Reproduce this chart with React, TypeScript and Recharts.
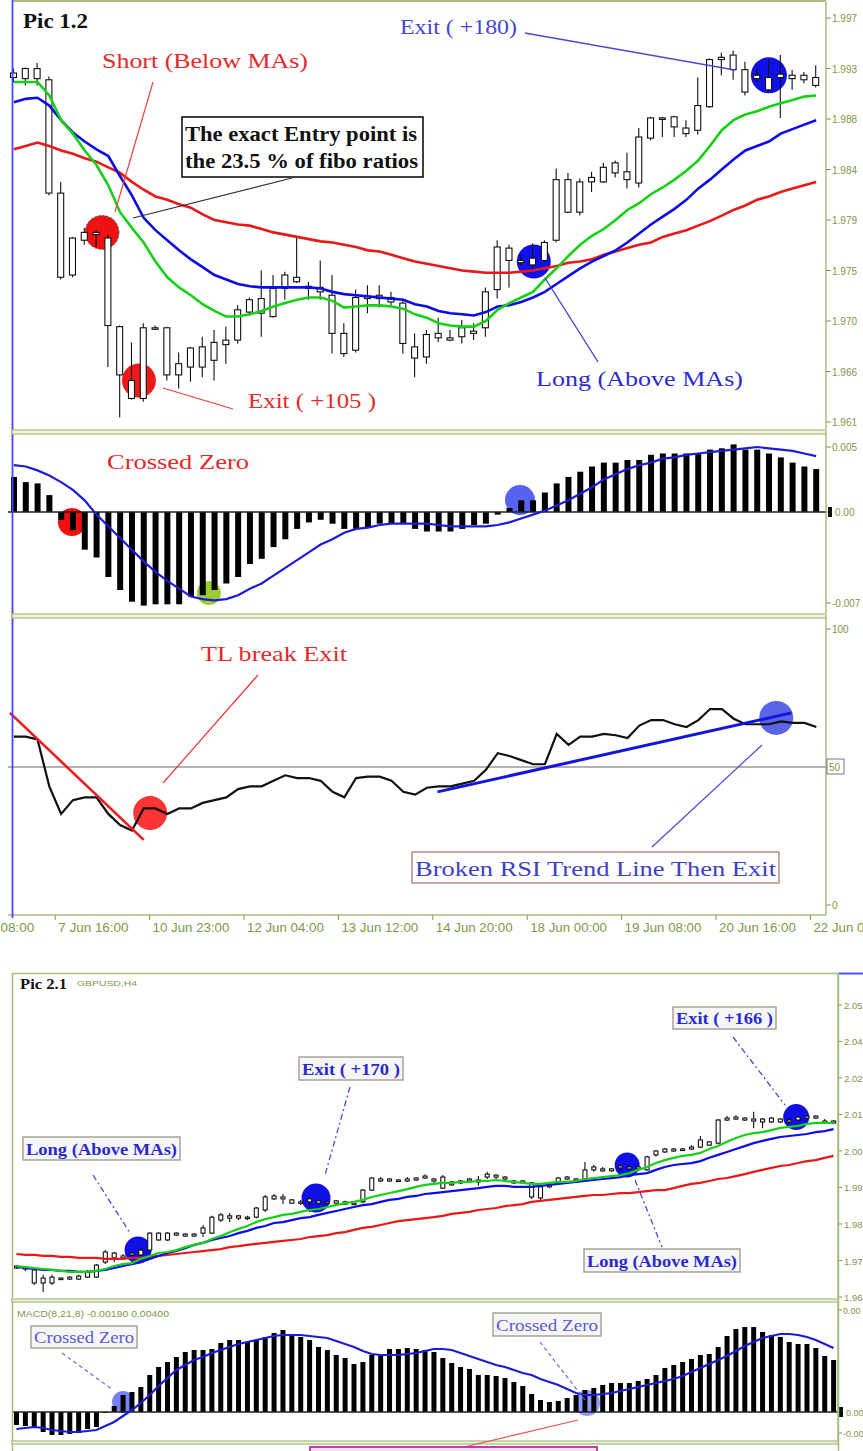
import React from 'react';
import { ComposedChart, Bar, Line, XAxis, YAxis, ReferenceDot, ReferenceLine } from 'recharts';

// ── Pic 1.2 (H4, 69 bars) ──────────────────────────────────────
// candles as [open, high, low, close]
const candles1: [number, number, number, number][] = [
  [1.9926, 1.993, 1.9918, 1.9922], [1.9921, 1.9931, 1.9915, 1.993], [1.993, 1.9935, 1.9915, 1.9921],
  [1.992, 1.9923, 1.9817, 1.9819], [1.9819, 1.9829, 1.9742, 1.9744], [1.9746, 1.978, 1.9744, 1.9779],
  [1.9777, 1.9788, 1.9773, 1.9784], [1.9784, 1.9786, 1.9771, 1.9782], [1.9779, 1.9782, 1.9664, 1.9701],
  [1.97, 1.9701, 1.9619, 1.9657], [1.9652, 1.9686, 1.9635, 1.9636], [1.9636, 1.9703, 1.9633, 1.9699],
  [1.9699, 1.9701, 1.9697, 1.9698], [1.9699, 1.97, 1.9652, 1.9657], [1.9657, 1.9677, 1.9645, 1.9667],
  [1.9664, 1.9682, 1.9651, 1.9681], [1.9664, 1.9691, 1.9655, 1.9682], [1.967, 1.9697, 1.9652, 1.9686],
  [1.9684, 1.97, 1.9667, 1.9688], [1.9688, 1.9719, 1.9685, 1.9715], [1.9713, 1.9726, 1.971, 1.9724],
  [1.9712, 1.975, 1.9691, 1.9725], [1.9709, 1.9746, 1.9708, 1.9734], [1.9734, 1.9749, 1.9724, 1.9746],
  [1.9744, 1.978, 1.9739, 1.974], [1.9736, 1.974, 1.9724, 1.9734], [1.9735, 1.9759, 1.9724, 1.9731],
  [1.9728, 1.9746, 1.9676, 1.9694], [1.9694, 1.9703, 1.9673, 1.9676], [1.9679, 1.9733, 1.9677, 1.9726],
  [1.9727, 1.9737, 1.9712, 1.9725], [1.9725, 1.9737, 1.9717, 1.9728], [1.9726, 1.9731, 1.9719, 1.9722],
  [1.9721, 1.9724, 1.9676, 1.9685], [1.9682, 1.9694, 1.9655, 1.9672], [1.9673, 1.9697, 1.9667, 1.9693],
  [1.9694, 1.9708, 1.9686, 1.969], [1.969, 1.9697, 1.9687, 1.9688], [1.9691, 1.9706, 1.9685, 1.9699],
  [1.9694, 1.9703, 1.9688, 1.9696], [1.9699, 1.9735, 1.9691, 1.9731], [1.9733, 1.9777, 1.9725, 1.9771],
  [1.977, 1.9773, 1.9735, 1.9759], [1.9757, 1.9764, 1.9754, 1.9759], [1.9755, 1.9774, 1.9753, 1.9761],
  [1.9759, 1.9777, 1.9758, 1.9775], [1.9777, 1.9841, 1.9775, 1.9831], [1.9831, 1.9837, 1.9801, 1.9802],
  [1.9802, 1.9832, 1.9799, 1.9829], [1.9829, 1.9838, 1.982, 1.9833], [1.9829, 1.9846, 1.9828, 1.9842],
  [1.9837, 1.9848, 1.9833, 1.9846], [1.9838, 1.9855, 1.9823, 1.9831], [1.9828, 1.9877, 1.9824, 1.9869],
  [1.9868, 1.9887, 1.9866, 1.9886], [1.9886, 1.9887, 1.9869, 1.9885], [1.9887, 1.9888, 1.9869, 1.9878],
  [1.9877, 1.9884, 1.9869, 1.9872], [1.9875, 1.9922, 1.9871, 1.9897], [1.9896, 1.9939, 1.9895, 1.9938],
  [1.9938, 1.9944, 1.9924, 1.994], [1.9929, 1.9946, 1.992, 1.9942], [1.9929, 1.9936, 1.9906, 1.9909],
  [1.9924, 1.993, 1.9918, 1.9921], [1.9922, 1.9938, 1.9909, 1.9911], [1.9922, 1.9942, 1.9886, 1.9925],
  [1.9921, 1.9929, 1.9911, 1.9924], [1.992, 1.9927, 1.9917, 1.9924], [1.9915, 1.9933, 1.9913, 1.9922],
];
const ma1Fast = [
  1.9918, 1.9918, 1.9918, 1.9906, 1.9884, 1.9872, 1.9857, 1.9844, 1.9826, 1.9802,
  1.9788, 1.9775, 1.9758, 1.9744, 1.9735, 1.9728, 1.972, 1.9714, 1.9709, 1.9709,
  1.9711, 1.9714, 1.9718, 1.9721, 1.9724, 1.9726, 1.9726, 1.9723, 1.9717, 1.9718,
  1.9719, 1.9719, 1.9718, 1.9716, 1.9711, 1.9708, 1.9703, 1.9701, 1.97, 1.97,
  1.9705, 1.9715, 1.9721, 1.9726, 1.9731, 1.9742, 1.9752, 1.9763, 1.9773, 1.9781,
  1.9787, 1.9795, 1.9804, 1.981, 1.9818, 1.9824, 1.9831, 1.9839, 1.9848, 1.9861,
  1.9875, 1.9884, 1.9889, 1.9892, 1.9896, 1.9899, 1.9902, 1.9905, 1.9906,
];
const ma1Mid = [
  1.99, 1.9903, 1.9904, 1.9897, 1.9884, 1.9873, 1.9865, 1.9858, 1.9852, 1.9834,
  1.9817, 1.9797, 1.9786, 1.9777, 1.9768, 1.976, 1.9753, 1.9746, 1.9742, 1.9738,
  1.9736, 1.9735, 1.9735, 1.9735, 1.9735, 1.9735, 1.9734, 1.9731, 1.9729, 1.9728,
  1.9727, 1.9726, 1.9725, 1.9724, 1.972, 1.9718, 1.9714, 1.9712, 1.9711, 1.971,
  1.9713, 1.9718, 1.9719, 1.9722, 1.9726, 1.9731, 1.9738, 1.9745, 1.9752, 1.9758,
  1.9763, 1.9768, 1.9775, 1.9783, 1.9791, 1.9798, 1.9805, 1.9813, 1.9823, 1.9831,
  1.984, 1.9849, 1.9857, 1.9861, 1.9865, 1.9872, 1.9876, 1.988, 1.9884,
];
const ma1Slow = [
  1.9858, 1.9861, 1.9864, 1.9861, 1.9857, 1.9854, 1.985, 1.9847, 1.9842, 1.9837,
  1.9829, 1.9822, 1.9816, 1.9813, 1.9809, 1.9806, 1.98, 1.9795, 1.9793, 1.9791,
  1.979, 1.9787, 1.9784, 1.9782, 1.978, 1.9778, 1.9776, 1.9775, 1.9773, 1.9771,
  1.9768, 1.9767, 1.9764, 1.9761, 1.9758, 1.9756, 1.9754, 1.9752, 1.975, 1.9749,
  1.9748, 1.9748, 1.9748, 1.9749, 1.975, 1.9752, 1.9754, 1.9757, 1.9758, 1.976,
  1.9764, 1.9767, 1.977, 1.9773, 1.9775, 1.978, 1.9783, 1.9786, 1.979, 1.9794,
  1.9799, 1.9804, 1.9808, 1.9813, 1.9816, 1.982, 1.9823, 1.9826, 1.9829,
];
const macd1Hist = [
  0.0027, 0.0023, 0.0022, 0.0013, -0.0006, -0.0014, -0.0029, -0.0035, -0.005, -0.006,
  -0.0069, -0.0072, -0.0071, -0.0071, -0.0071, -0.0065, -0.0064, -0.006, -0.0055, -0.005,
  -0.004, -0.0036, -0.0027, -0.0021, -0.0013, -0.0008, -0.0006, -0.0009, -0.0013, -0.0013,
  -0.0012, -0.0009, -0.0009, -0.0009, -0.0013, -0.0015, -0.0015, -0.0015, -0.0013, -0.001,
  -0.0009, -0.0002, 0.0003, 0.0009, 0.0009, 0.0015, 0.0022, 0.0027, 0.0031, 0.0035,
  0.0038, 0.0038, 0.004, 0.004, 0.0044, 0.0045, 0.0045, 0.0045, 0.0045, 0.0048,
  0.0049, 0.0052, 0.0048, 0.0048, 0.0045, 0.0042, 0.0038, 0.0035, 0.0033,
];
const macd1Signal = [
  0.0036, 0.0035, 0.0032, 0.0028, 0.0023, 0.0017, 0.0009, -0.0002, -0.0011, -0.002,
  -0.0029, -0.0038, -0.0046, -0.0053, -0.0059, -0.0065, -0.0067, -0.0068, -0.0067, -0.0064,
  -0.0059, -0.0055, -0.0049, -0.0043, -0.0037, -0.0031, -0.0025, -0.0021, -0.0016, -0.0013,
  -0.0012, -0.001, -0.0009, -0.0009, -0.0009, -0.0009, -0.001, -0.0011, -0.0011, -0.0011,
  -0.0011, -0.001, -0.0008, -0.0005, -0.0002, 0.0001, 0.0005, 0.0009, 0.0014, 0.0019,
  0.0025, 0.0029, 0.0033, 0.0036, 0.0038, 0.0041, 0.0042, 0.0044, 0.0045, 0.0046,
  0.0047, 0.0048, 0.0049, 0.005, 0.0049, 0.0048, 0.0047, 0.0045, 0.0043,
];
const rsi1 = [
  61, 61, 60, 43, 33, 38, 39, 39, 33, 29, 27, 35, 35, 33, 35, 35, 37, 38, 39, 42,
  43, 43, 45, 47, 46, 46, 45, 41, 39, 46, 46.5, 46.5, 45, 41, 40, 42.5, 43, 43, 44, 45,
  49, 55, 54, 52.5, 51, 51, 62, 58, 61, 61, 62, 61.5, 60.5, 65, 67, 67, 65.5, 64.5, 67, 71,
  71, 67.5, 65.5, 65.5, 65.5, 66.5, 66, 66, 64.5,
];
const timeLabels1 = [
  '6 Jun 08:00', '7 Jun 16:00', '10 Jun 23:00', '12 Jun 04:00', '13 Jun 12:00',
  '14 Jun 20:00', '18 Jun 00:00', '19 Jun 08:00', '20 Jun 16:00', '22 Jun 00:00',
];
const priceTicks1 = [1.9975, 1.993, 1.9885, 1.984, 1.9795, 1.975, 1.9705, 1.966, 1.9615];
const macdTicks1 = [0.005, 0, -0.007];
const rsiTicks1 = [100, 50, 0];

// ── Pic 2.1 (GBPUSD H4, 93 bars) ───────────────────────────────
const candles2: [number, number, number, number][] = [
  [1.9715, 1.9718, 1.9706, 1.9709], [1.9712, 1.9715, 1.97, 1.9706], [1.9703, 1.9709, 1.9657, 1.9663],
  [1.9678, 1.9688, 1.9635, 1.9663], [1.9663, 1.9688, 1.9657, 1.9681], [1.9675, 1.9681, 1.9672, 1.9678],
  [1.9675, 1.9684, 1.9672, 1.9681], [1.9684, 1.9688, 1.9672, 1.9675], [1.9681, 1.9703, 1.9678, 1.9697],
  [1.9681, 1.9721, 1.9678, 1.9718], [1.9727, 1.9764, 1.9721, 1.9758], [1.9755, 1.9758, 1.9727, 1.974],
  [1.974, 1.9752, 1.9734, 1.9746], [1.9749, 1.9758, 1.9746, 1.9755], [1.9749, 1.977, 1.9746, 1.9764],
  [1.9764, 1.9819, 1.9758, 1.9816], [1.9816, 1.9819, 1.9792, 1.9795], [1.9795, 1.9819, 1.9792, 1.9816],
  [1.9816, 1.9819, 1.9807, 1.981], [1.9807, 1.9816, 1.9804, 1.9813], [1.9813, 1.9816, 1.9804, 1.9807],
  [1.9816, 1.9841, 1.9804, 1.9832], [1.9816, 1.9869, 1.9813, 1.9865], [1.9856, 1.9878, 1.985, 1.9872],
  [1.9869, 1.9878, 1.985, 1.9862], [1.9862, 1.9872, 1.9856, 1.9869], [1.9865, 1.9869, 1.9856, 1.9862],
  [1.9865, 1.9896, 1.9862, 1.9893], [1.9887, 1.9933, 1.9881, 1.9927], [1.9921, 1.9936, 1.9918, 1.993],
  [1.9927, 1.9936, 1.9905, 1.9921], [1.9918, 1.9921, 1.9905, 1.9908], [1.9912, 1.9918, 1.9902, 1.9908],
  [1.9912, 1.9924, 1.9881, 1.9921], [1.9908, 1.9918, 1.9905, 1.9915], [1.9912, 1.9915, 1.9905, 1.9908],
  [1.9908, 1.9918, 1.9902, 1.9915], [1.9912, 1.9915, 1.9902, 1.9905], [1.9905, 1.9912, 1.9902, 1.9908],
  [1.9912, 1.9951, 1.9908, 1.9948], [1.9948, 1.9988, 1.9945, 1.9985], [1.9982, 1.9988, 1.9973, 1.9976],
  [1.9976, 1.9985, 1.9973, 1.9982], [1.9979, 1.9982, 1.9973, 1.9976], [1.9976, 1.9988, 1.9973, 1.9982],
  [1.9979, 1.9988, 1.9976, 1.9985], [1.9985, 1.9997, 1.9982, 1.9991], [1.9982, 1.9985, 1.997, 1.9976],
  [1.9988, 1.9994, 1.9951, 1.9954], [1.9964, 1.9976, 1.9961, 1.9973], [1.997, 1.9979, 1.9967, 1.9976],
  [1.9976, 1.9985, 1.9973, 1.9982], [1.9979, 1.9991, 1.9961, 1.9973], [1.9988, 2.0004, 1.9982, 1.9997],
  [1.9994, 1.9997, 1.9982, 1.9988], [1.9988, 1.9991, 1.9979, 1.9982], [1.9976, 1.9979, 1.9967, 1.997],
  [1.997, 1.9979, 1.9967, 1.9976], [1.997, 1.9973, 1.9921, 1.9927], [1.9924, 1.9961, 1.9918, 1.9958],
  [1.9958, 1.997, 1.9954, 1.9967], [1.997, 1.9988, 1.9967, 1.9985], [1.9982, 1.9991, 1.9979, 1.9988],
  [1.9982, 1.9985, 1.9973, 1.9976], [1.9979, 2.0034, 1.9976, 2.001], [2.001, 2.0025, 2.0004, 2.0019],
  [2.0013, 2.0019, 2.0004, 2.0007], [2.0007, 2.0016, 2.0004, 2.0013], [2.0016, 2.0025, 2.001, 2.0022],
  [2.0019, 2.0022, 2.001, 2.0013], [2.0013, 2.0022, 2.001, 2.0019], [2.001, 2.0053, 2.0007, 2.005],
  [2.0056, 2.0071, 2.005, 2.0068], [2.0074, 2.0077, 2.0062, 2.0065], [2.0068, 2.0077, 2.0065, 2.0074],
  [2.0074, 2.0077, 2.0068, 2.0071], [2.0074, 2.0086, 2.0071, 2.008], [2.008, 2.0114, 2.0077, 2.0102],
  [2.0086, 2.0099, 2.0083, 2.0096], [2.0092, 2.0166, 2.0089, 2.0163], [2.0163, 2.0175, 2.016, 2.0169],
  [2.0166, 2.0178, 2.0163, 2.0172], [2.0169, 2.0172, 2.016, 2.0163], [2.0166, 2.0188, 2.0138, 2.016],
  [2.0157, 2.0169, 2.0138, 2.0166], [2.0157, 2.0172, 2.0154, 2.0169], [2.0166, 2.0169, 2.0154, 2.0157],
  [2.0157, 2.0169, 2.0151, 2.0163], [2.0163, 2.0175, 2.016, 2.0172], [2.0169, 2.0181, 2.0166, 2.0175],
  [2.0175, 2.0178, 2.0166, 2.0169], [2.016, 2.0166, 2.0151, 2.0154], [2.0154, 2.0163, 2.0151, 2.016],
];
const ma2Fast = [
  1.9715, 1.9712, 1.9709, 1.9706, 1.9703, 1.97, 1.9697, 1.9697, 1.9697, 1.97,
  1.9706, 1.9715, 1.9721, 1.9724, 1.9737, 1.9746, 1.9755, 1.9758, 1.9764, 1.9773,
  1.978, 1.9786, 1.9798, 1.9807, 1.9819, 1.9829, 1.9838, 1.985, 1.9859, 1.9865,
  1.9872, 1.9875, 1.9881, 1.9887, 1.989, 1.9896, 1.9902, 1.9908, 1.9912, 1.9918,
  1.9927, 1.9933, 1.9939, 1.9945, 1.9951, 1.9958, 1.9964, 1.9967, 1.997, 1.997,
  1.9973, 1.9973, 1.9976, 1.9976, 1.9979, 1.9976, 1.9973, 1.997, 1.9967, 1.9967,
  1.997, 1.9973, 1.9973, 1.9976, 1.9982, 1.9985, 1.9988, 1.9991, 1.9994, 2.0,
  2.001, 2.0019, 2.0031, 2.004, 2.0047, 2.0053, 2.0056, 2.0062, 2.0074, 2.0083,
  2.0096, 2.0108, 2.0117, 2.0123, 2.0126, 2.0132, 2.0139, 2.0142, 2.0145, 2.0151,
  2.0154, 2.0154, 2.0154,
];
const ma2Mid = [
  1.9712, 1.9709, 1.9706, 1.9703, 1.9703, 1.97, 1.97, 1.9697, 1.9697, 1.97,
  1.9703, 1.9709, 1.9715, 1.9721, 1.9727, 1.9737, 1.9746, 1.9755, 1.9761, 1.977,
  1.978, 1.9786, 1.9795, 1.9801, 1.9807, 1.9816, 1.9823, 1.9832, 1.9838, 1.9847,
  1.985, 1.9856, 1.9862, 1.9865, 1.9872, 1.9878, 1.9884, 1.989, 1.9896, 1.9902,
  1.9905, 1.9912, 1.9918, 1.9921, 1.9927, 1.993, 1.9936, 1.9939, 1.9942, 1.9945,
  1.9948, 1.9951, 1.9954, 1.9958, 1.9961, 1.9961, 1.9958, 1.9958, 1.9958, 1.9961,
  1.9964, 1.9967, 1.997, 1.9973, 1.9976, 1.9979, 1.9982, 1.9985, 1.9988, 1.9994,
  1.9997, 2.0, 2.001, 2.0019, 2.0025, 2.0028, 2.0031, 2.0037, 2.0047, 2.0056,
  2.0065, 2.0074, 2.0083, 2.0092, 2.0099, 2.0105, 2.0111, 2.0114, 2.0117, 2.012,
  2.0126, 2.0129, 2.0135,
];
const ma2Slow = [
  1.9752, 1.9749, 1.9749, 1.9746, 1.9746, 1.9743, 1.9743, 1.974, 1.974, 1.974,
  1.9737, 1.9737, 1.9737, 1.974, 1.974, 1.9743, 1.9746, 1.9749, 1.9752, 1.9755,
  1.9758, 1.9761, 1.9764, 1.9767, 1.9773, 1.9776, 1.978, 1.9783, 1.9786, 1.9789,
  1.9792, 1.9795, 1.9798, 1.9804, 1.9807, 1.981, 1.9816, 1.9819, 1.9826, 1.9832,
  1.9835, 1.9841, 1.9847, 1.9853, 1.9856, 1.9859, 1.9862, 1.9865, 1.9869, 1.9875,
  1.9878, 1.9881, 1.9887, 1.989, 1.9893, 1.9899, 1.9902, 1.9905, 1.9912, 1.9915,
  1.9918, 1.9921, 1.9924, 1.9927, 1.993, 1.9933, 1.9933, 1.9936, 1.9939, 1.9939,
  1.9942, 1.9945, 1.9948, 1.9948, 1.9954, 1.9961, 1.9967, 1.997, 1.9976, 1.9982,
  1.9985, 1.9991, 1.9997, 2.0004, 2.001, 2.0016, 2.0022, 2.0025, 2.0031, 2.0037,
  2.004, 2.0047, 2.0053,
];
// MACD(8,21,8) in points (1e-5)
const macd2Hist = [
  -65, -70, -75, -100, -115, -115, -110, -105, -85, -75, -5, 30, 85, 100, 125, 185, 225, 250, 275, 300,
  310, 310, 315, 345, 360, 360, 350, 360, 375, 395, 410, 390, 375, 360, 325, 310, 285, 270, 240, 250,
  285, 285, 315, 315, 320, 315, 310, 300, 270, 245, 225, 215, 185, 185, 180, 170, 150, 130, 90, 60,
  50, 55, 70, 85, 110, 120, 135, 145, 145, 145, 155, 165, 185, 220, 235, 250, 265, 285, 290, 325,
  380, 415, 425, 425, 400, 385, 375, 350, 340, 340, 320, 280, 260,
];
const macd2Signal = [
  -85, -80, -75, -80, -90, -95, -100, -100, -95, -90, -70, -50, -20, 10, 45, 85, 130, 170, 210, 235,
  260, 275, 295, 310, 325, 340, 350, 360, 370, 380, 385, 385, 385, 380, 375, 370, 355, 340, 325, 305,
  290, 285, 285, 285, 290, 295, 305, 315, 315, 310, 295, 280, 265, 250, 235, 225, 210, 195, 185, 165,
  150, 135, 115, 95, 85, 85, 90, 95, 105, 115, 125, 135, 145, 155, 165, 180, 200, 220, 240, 260,
  280, 305, 330, 350, 370, 380, 390, 390, 385, 375, 360, 340, 320,
];
const priceTicks2 = [2.0516, 2.0404, 2.0292, 2.018, 2.0068, 1.9956, 1.9844, 1.9732, 1.962];
const macdTicks2 = [510, 0, -105];

// ── styling ────────────────────────────────────────────────────
const OLIVE = '#7d9848';
const FRAME = '#a9bb7e';
const GREEN = '#16d016';
const BLUE = '#0c0ce8';
const RED = '#e81818';
const SIG = '#1c1cd6';
const SANS = "'Liberation Sans', 'DejaVu Sans', sans-serif";
const SERIF = "'Liberation Serif', 'DejaVu Serif', serif";
const DOT_Z = 250; // keep the marker blobs under candles, bars and lines

const toRows = (c: [number, number, number, number][], f: number[], m: number[], s: number[]) =>
  c.map(([o, h, l, cl], i) => ({ i, range: [l, h], open: o, high: h, low: l, close: cl, fast: f[i], mid: m[i], slow: s[i] }));

const rows1 = toRows(candles1, ma1Fast, ma1Mid, ma1Slow);
const macdRows1 = macd1Hist.map((v, i) => ({ i, hist: v, signal: macd1Signal[i], rsi: rsi1[i] }));
const rows2 = toRows(candles2, ma2Fast, ma2Mid, ma2Slow);
const macdRows2 = macd2Hist.map((v, i) => ({ i, hist: v, signal: macd2Signal[i] }));

// MT4 cuts the scale labels at the window edge, so show them truncated
const trunc = (v: number, d: number) => (Math.floor(v * 10 ** d + 1e-9) / 10 ** d).toFixed(d);

function Candle(props: any) {
  const { x, y, width, height, payload } = props;
  if (x == null || !payload) return null;
  const top = Math.min(y, y + height);
  const full = Math.abs(height);
  const k = full / (payload.high - payload.low);
  const yo = top + (payload.high - payload.open) * k;
  const yc = top + (payload.high - payload.close) * k;
  const cx = x + width / 2;
  const bt = Math.min(yo, yc);
  const bh = Math.max(Math.abs(yo - yc), 1.5);
  return (
    <g>
      <line x1={cx} x2={cx} y1={top} y2={top + full} stroke="#111" strokeWidth={1.1} />
      <rect x={x + 0.5} y={bt} width={width - 1} height={bh} fill="#fff" stroke="#111" strokeWidth={1.1} />
    </g>
  );
}

const rightTick = (fmt: (v: number) => string, size = 10) => (p: any) => {
  const v = p.payload.value;
  if (v === 0 && fmt(0) !== '0') {
    return (
      <g>
        <rect x={p.x - 4} y={p.y - 5} width={4} height={10} fill="#111" />
        <text x={p.x + 3} y={p.y + 4} fill={OLIVE} fontSize={size} fontFamily={SANS}>{fmt(v)}</text>
      </g>
    );
  }
  if (v === 50) {
    return (
      <g>
        <rect x={p.x - 5} y={p.y - 8} width={17} height={15} fill="#fff" stroke="#777" />
        <text x={p.x - 3} y={p.y + 4} fill={OLIVE} fontSize={size} fontFamily={SANS}>{fmt(v)}</text>
      </g>
    );
  }
  return <text x={p.x} y={p.y + 4} fill={OLIVE} fontSize={size} fontFamily={SANS}>{fmt(v)}</text>;
};

const timeTick = (p: any) => {
  const label = timeLabels1[Math.round((p.payload.value + 4.5) / 8)] || '';
  return (
    <text x={p.x + 3} y={p.y + 10} fill={OLIVE} fontSize={12} fontFamily={SANS}
      textLength={label.length * 6.4} lengthAdjust="spacingAndGlyphs">{label}</text>
  );
};

function Note(props: { x: number; y: number; w: number; size: number; color: string; bold?: boolean; font?: string; children: string }) {
  const { x, y, w, size, color, bold, font, children } = props;
  return (
    <text x={x} y={y} fontSize={size} fill={color} fontWeight={bold ? 'bold' : 'normal'}
      fontFamily={font || SERIF} textLength={w} lengthAdjust="spacingAndGlyphs">{children}</text>
  );
}

function BoxNote(props: { x: number; y: number; w: number; h: number; size: number; color: string; bold?: boolean; children: string }) {
  const { x, y, w, h, size, color, bold, children } = props;
  return (
    <g>
      <rect x={x} y={y} width={w} height={h} fill="#f6f6f6" stroke="#9c9488" strokeWidth={1.3} />
      <Note x={x + 3} y={y + h - 5} w={w - 6} size={size} color={color} bold={bold}>{children}</Note>
    </g>
  );
}

const yRight = (id: string, ticks: number[], domain: [number, number], fmt: (v: number) => string) => (
  <YAxis yAxisId={id} orientation="right" width={37} domain={domain} ticks={ticks} interval={0}
    allowDataOverflow type="number" axisLine={{ stroke: FRAME, strokeWidth: 1.5 }}
    tickLine={{ stroke: OLIVE }} tickSize={5} tickMargin={1} tick={rightTick(fmt)} />
);

export default function App() {
  const pad1 = { left: 0, right: 4 };
  const xs1 = (
    <>
      <XAxis xAxisId="c" dataKey="i" type="category" hide padding={pad1} />
      <XAxis xAxisId="n" dataKey="i" type="number" hide domain={[-0.5, 68.5]} allowDataOverflow padding={pad1} />
    </>
  );
  const xs2 = (
    <>
      <XAxis xAxisId="c" dataKey="i" type="category" hide />
      <XAxis xAxisId="n" dataKey="i" type="number" hide domain={[-0.5, 92.5]} allowDataOverflow />
    </>
  );
  const m1 = { top: 2, right: 0, bottom: 1, left: 8 };
  const m2 = { top: 2, right: 0, bottom: 2, left: 12 };
  const noDot = { dot: false, activeDot: false, type: 'linear' as const, isAnimationActive: false };
  const vis = { overflow: 'visible' as const };

  return (
    <div style={{ position: 'absolute', left: 0, top: 0, width: 863, height: 1451, overflow: 'hidden', background: '#fff' }}>
      {/* Pic 1.2 price */}
      <div style={{ position: 'absolute', left: 0, top: 0 }}>
        <ComposedChart width={863} height={430} data={rows1} margin={m1} style={vis}>
          {xs1}
          {yRight('p', priceTicks1, [1.96088, 1.99893], (v) => trunc(v, 3))}
          <ReferenceDot xAxisId="n" yAxisId="p" x={7.47} y={1.9784} r={17} fill="#ee1111" stroke="#555" strokeDasharray="2 2" zIndex={DOT_Z} />
          <ReferenceDot xAxisId="n" yAxisId="p" x={10.6} y={1.9652} r={17} fill="#ee1a1a" stroke="none" zIndex={DOT_Z} />
          <ReferenceDot xAxisId="n" yAxisId="p" x={44.07} y={1.9758} r={17} fill="#1010e8" stroke="none" zIndex={DOT_Z} />
          <ReferenceDot xAxisId="n" yAxisId="p" x={64.0} y={1.9924} r={18} fill="#1010e8" stroke="none" zIndex={DOT_Z} />
          <Bar xAxisId="c" yAxisId="p" dataKey="range" barSize={7} shape={<Candle />} isAnimationActive={false} />
          <Line xAxisId="c" yAxisId="p" dataKey="slow" stroke={RED} strokeWidth={2.6} {...noDot} />
          <Line xAxisId="c" yAxisId="p" dataKey="mid" stroke={BLUE} strokeWidth={2.6} {...noDot} />
          <Line xAxisId="c" yAxisId="p" dataKey="fast" stroke={GREEN} strokeWidth={2.6} {...noDot} />
        </ComposedChart>
      </div>

      {/* Pic 1.2 MACD */}
      <div style={{ position: 'absolute', left: 0, top: 431 }}>
        <ComposedChart width={863} height={184} data={macdRows1} margin={{ top: 2, right: 0, bottom: 2, left: 8 }} style={vis}>
          {xs1}
          {yRight('m', macdTicks1, [-0.007769, 0.006077], (v) => (v === 0 ? '0.00' : v.toFixed(3)))}
          <ReferenceLine xAxisId="c" yAxisId="m" y={0} stroke="#222" strokeWidth={1.5} />
          <ReferenceDot xAxisId="n" yAxisId="m" x={4.92} y={-0.00077} r={14} fill="#f01010" stroke="none" zIndex={DOT_Z} />
          <ReferenceDot xAxisId="n" yAxisId="m" x={16.53} y={-0.00623} r={12} fill="#9acd32" stroke="none" zIndex={DOT_Z} />
          <ReferenceDot xAxisId="n" yAxisId="m" x={42.9} y={0.00092} r={15} fill="#5563f0" stroke="none" zIndex={DOT_Z} />
          <Bar xAxisId="c" yAxisId="m" dataKey="hist" barSize={6} fill="#000" isAnimationActive={false} />
          <Line xAxisId="c" yAxisId="m" dataKey="signal" stroke={SIG} strokeWidth={2.2} {...noDot} />
        </ComposedChart>
      </div>

      {/* Pic 1.2 RSI with the time scale */}
      <div style={{ position: 'absolute', left: 0, top: 615 }}>
        <ComposedChart width={863} height={327} data={macdRows1} margin={{ top: 2, right: 0, bottom: 0, left: 8 }} style={vis}>
          <XAxis xAxisId="n" dataKey="i" type="number" domain={[-0.5, 68.82]} allowDataOverflow
            height={27} ticks={timeLabels1.map((_, k) => k * 8 - 4.5)} interval={0}
            axisLine={{ stroke: FRAME, strokeWidth: 1.5 }} tickLine={{ stroke: OLIVE }} tickSize={5} tickMargin={2} tick={timeTick} />
          {yRight('r', rsiTicks1, [-3.62, 104.35], (v) => String(v))}
          <ReferenceLine xAxisId="n" yAxisId="r" y={50} stroke="#9a9a9a" strokeWidth={1.5} />
          <ReferenceDot xAxisId="n" yAxisId="r" x={11.55} y={33.3} r={17} fill="#ff3434" stroke="none" zIndex={DOT_Z} />
          <ReferenceDot xAxisId="n" yAxisId="r" x={64.6} y={67.8} r={17} fill="#5a64e6" stroke="none" zIndex={DOT_Z} />
          <Line xAxisId="n" yAxisId="r" dataKey="rsi" stroke="#111" strokeWidth={2.2} {...noDot} />
          <ReferenceLine xAxisId="n" yAxisId="r" segment={[{ x: -0.34, y: 69.6 }, { x: 11.0, y: 23.6 }]} stroke="#ee1c1c" strokeWidth={2.6} ifOverflow="visible" />
          <ReferenceLine xAxisId="n" yAxisId="r" segment={[{ x: 35.9, y: 41 }, { x: 65.9, y: 69.6 }]} stroke="#1414e0" strokeWidth={3} ifOverflow="visible" />
        </ComposedChart>
      </div>

      {/* Pic 2.1 price */}
      <div style={{ position: 'absolute', left: 0, top: 973 }}>
        <ComposedChart width={863} height={328} data={rows2} margin={m2} style={vis}>
          {xs2}
          <YAxis yAxisId="p" orientation="right" width={25} domain={[1.96139, 2.06079]} ticks={priceTicks2} interval={0}
            allowDataOverflow type="number" axisLine={{ stroke: FRAME, strokeWidth: 1.5 }} tickLine={{ stroke: OLIVE }}
            tickSize={4} tickMargin={2} tick={rightTick((v) => trunc(v, 2), 9.5)} />
          <ReferenceDot xAxisId="n" yAxisId="p" x={13.69} y={1.9764} r={13.5} fill="#0f0fe6" stroke="none" zIndex={DOT_Z} />
          <ReferenceDot xAxisId="n" yAxisId="p" x={33.73} y={1.9924} r={14.5} fill="#0f0fe6" stroke="none" zIndex={DOT_Z} />
          <ReferenceDot xAxisId="n" yAxisId="p" x={68.76} y={2.0025} r={12.5} fill="#0f0fe6" stroke="none" zIndex={DOT_Z} />
          <ReferenceDot xAxisId="n" yAxisId="p" x={87.79} y={2.0172} r={13} fill="#0f0fe6" stroke="none" zIndex={DOT_Z} />
          <Line xAxisId="c" yAxisId="p" dataKey="slow" stroke={RED} strokeWidth={2.2} {...noDot} />
          <Line xAxisId="c" yAxisId="p" dataKey="mid" stroke={BLUE} strokeWidth={2.2} {...noDot} />
          <Line xAxisId="c" yAxisId="p" dataKey="fast" stroke={GREEN} strokeWidth={2.2} {...noDot} />
          <Bar xAxisId="c" yAxisId="p" dataKey="range" barSize={5} shape={<Candle />} isAnimationActive={false} />
        </ComposedChart>
      </div>

      {/* Pic 2.1 MACD */}
      <div style={{ position: 'absolute', left: 0, top: 1300 }}>
        <ComposedChart width={863} height={144} data={macdRows2} margin={m2} style={vis}>
          {xs2}
          <YAxis yAxisId="m" orientation="right" width={25} domain={[-150, 550]} ticks={macdTicks2} interval={0}
            allowDataOverflow type="number" axisLine={{ stroke: FRAME, strokeWidth: 1.5 }} tickLine={{ stroke: OLIVE }}
            tickSize={4} tickMargin={1} tick={rightTick((v) => trunc(v / 100000, 2).replace('-0.01', '-0.00'), 9)} />
          <ReferenceLine xAxisId="c" yAxisId="m" y={0} stroke="#222" strokeWidth={1.5} />
          <ReferenceDot xAxisId="n" yAxisId="m" x={12.0} y={50} r={11} fill="#3b4cff" fillOpacity={0.7} stroke="none" zIndex={DOT_Z} />
          <ReferenceDot xAxisId="n" yAxisId="m" x={64.25} y={45} r={13} fill="#3b4cff" fillOpacity={0.55} stroke="none" zIndex={DOT_Z} />
          <Bar xAxisId="c" yAxisId="m" dataKey="hist" barSize={5} fill="#000" isAnimationActive={false} />
          <Line xAxisId="c" yAxisId="m" dataKey="signal" stroke={SIG} strokeWidth={2.2} {...noDot} />
        </ComposedChart>
      </div>

      {/* frames and annotations */}
      <svg width={863} height={1451} style={{ position: 'absolute', left: 0, top: 0, pointerEvents: 'none' }}>
        {/* Pic 1.2 frame */}
        <line x1={12} y1={1} x2={826} y2={1} stroke={FRAME} strokeWidth={2} />
        <line x1={12.5} y1={0} x2={12.5} y2={918} stroke="#4848ff" strokeWidth={1.8} />
        <rect x={12} y={430} width={814} height={4} fill="#eef2e2" stroke={FRAME} strokeWidth={1.2} />
        <rect x={12} y={614} width={814} height={4} fill="#eef2e2" stroke={FRAME} strokeWidth={1.2} />

        <Note x={23} y={28} w={65} size={20} color="#111" bold>Pic 1.2</Note>
        <Note x={102} y={68} w={206} size={22} color="#e42a2a">Short (Below MAs)</Note>
        <line x1={153} y1={82} x2={115} y2={212} stroke="#f04040" strokeWidth={1.2} />
        <rect x={182} y={117} width={241} height={60} fill="#fff" stroke="#111" strokeWidth={1.6} />
        <Note x={185} y={141} w={232} size={20} color="#111" bold>The exact Entry point is</Note>
        <Note x={185} y={168} w={233} size={20} color="#111" bold>the 23.5 % of fibo ratios</Note>
        <line x1={292} y1={178} x2={133} y2={218} stroke="#333" strokeWidth={1.2} />
        <Note x={400} y={34} w={117} size={21} color="#4646d6">Exit ( +180)</Note>
        <line x1={525} y1={33} x2={735} y2={70} stroke="#4a4ad8" strokeWidth={1.5} />
        <Note x={536} y={386} w={207} size={22} color="#2b2bd4">Long (Above MAs)</Note>
        <line x1={545} y1={278} x2={598} y2={362} stroke="#3a3ad8" strokeWidth={1.3} />
        <Note x={248} y={408} w={128} size={21} color="#e42a2a">Exit ( +105 )</Note>
        <line x1={163} y1={388} x2={233} y2={409} stroke="#f04040" strokeWidth={1.3} />

        <Note x={107} y={469} w={142} size={21} color="#e42a2a">Crossed Zero</Note>

        <Note x={201} y={661} w={146} size={22} color="#e42a2a">TL break Exit</Note>
        <line x1={258} y1={675} x2={163} y2={783} stroke="#f03030" strokeWidth={1.2} />
        <rect x={412} y={852} width={367} height={31} fill="#fff" stroke="#b07a7a" strokeWidth={1.3} />
        <Note x={415} y={876} w={361} size={21} color="#4040c8">Broken RSI Trend Line Then Exit</Note>
        <line x1={652} y1={847} x2={762} y2={745} stroke="#4a4ad8" strokeWidth={1.2} />

        {/* Pic 2.1 frame */}
        <line x1={12} y1={973.5} x2={838} y2={973.5} stroke={FRAME} strokeWidth={1.5} />
        <line x1={838} y1={973.5} x2={863} y2={973.5} stroke="#5050ff" strokeWidth={2} />
        <line x1={12.5} y1={973} x2={12.5} y2={1451} stroke={FRAME} strokeWidth={1.5} />
        <line x1={838.5} y1={973} x2={838.5} y2={1451} stroke={FRAME} strokeWidth={1.5} />
        <rect x={12} y={1299} width={826} height={3} fill="#eef2e2" stroke={FRAME} strokeWidth={1.2} />
        <rect x={12} y={1441} width={826} height={3} fill="#eef2e2" stroke={FRAME} strokeWidth={1.2} />

        <Note x={20} y={989} w={47} size={15} color="#111" bold>Pic 2.1</Note>
        <Note x={77} y={986} w={60} size={8} color={OLIVE} font={SANS}>GBPUSD,H4</Note>
        <BoxNote x={23} y={1137} w={157} h={23} size={17} color="#2a2ad2" bold>Long (Above MAs)</BoxNote>
        <line x1={93} y1={1175} x2={130} y2={1233} stroke="#4a4ae0" strokeWidth={1.3} strokeDasharray="6 3 2 3" />
        <BoxNote x={299} y={1057} w={104} h={23} size={17} color="#2a2ad2" bold>Exit ( +170 )</BoxNote>
        <line x1={350} y1={1087} x2={325} y2={1175} stroke="#4a4ae0" strokeWidth={1.3} strokeDasharray="6 3 2 3" />
        <BoxNote x={673} y={1007} w={103} h={22} size={17} color="#2a2ad2" bold>Exit ( +166 )</BoxNote>
        <line x1={733} y1={1037} x2={785} y2={1105} stroke="#4a4ae0" strokeWidth={1.3} strokeDasharray="6 3 2 3" />
        <BoxNote x={584} y={1249} w={156} h={23} size={17} color="#2a2ad2" bold>Long (Above MAs)</BoxNote>
        <line x1={635} y1={1180} x2={662} y2={1247} stroke="#4a4ae0" strokeWidth={1.3} strokeDasharray="6 3 2 3" />

        <Note x={17} y={1317} w={152} size={8.5} color={OLIVE} font={SANS}>MACD(8,21,8) -0.00190 0.00400</Note>
        <BoxNote x={31} y={1326} w={106} h={22} size={17} color="#5a5ad8">Crossed Zero</BoxNote>
        <line x1={62} y1={1353} x2={113} y2={1390} stroke="#6a6ae8" strokeWidth={1.2} strokeDasharray="4 3" />
        <BoxNote x={493} y={1313} w={108} h={23} size={17} color="#5a5ad8">Crossed Zero</BoxNote>
        <line x1={540} y1={1342} x2={585} y2={1400} stroke="#6a6ae8" strokeWidth={1.2} strokeDasharray="4 3" />
        <line x1={578} y1={1420} x2={460} y2={1448} stroke="#f05050" strokeWidth={1.2} />
        <rect x={310} y={1447} width={287} height={12} fill="#efe0f2" stroke="#c23fa0" strokeWidth={2} />
      </svg>
    </div>
  );
}
